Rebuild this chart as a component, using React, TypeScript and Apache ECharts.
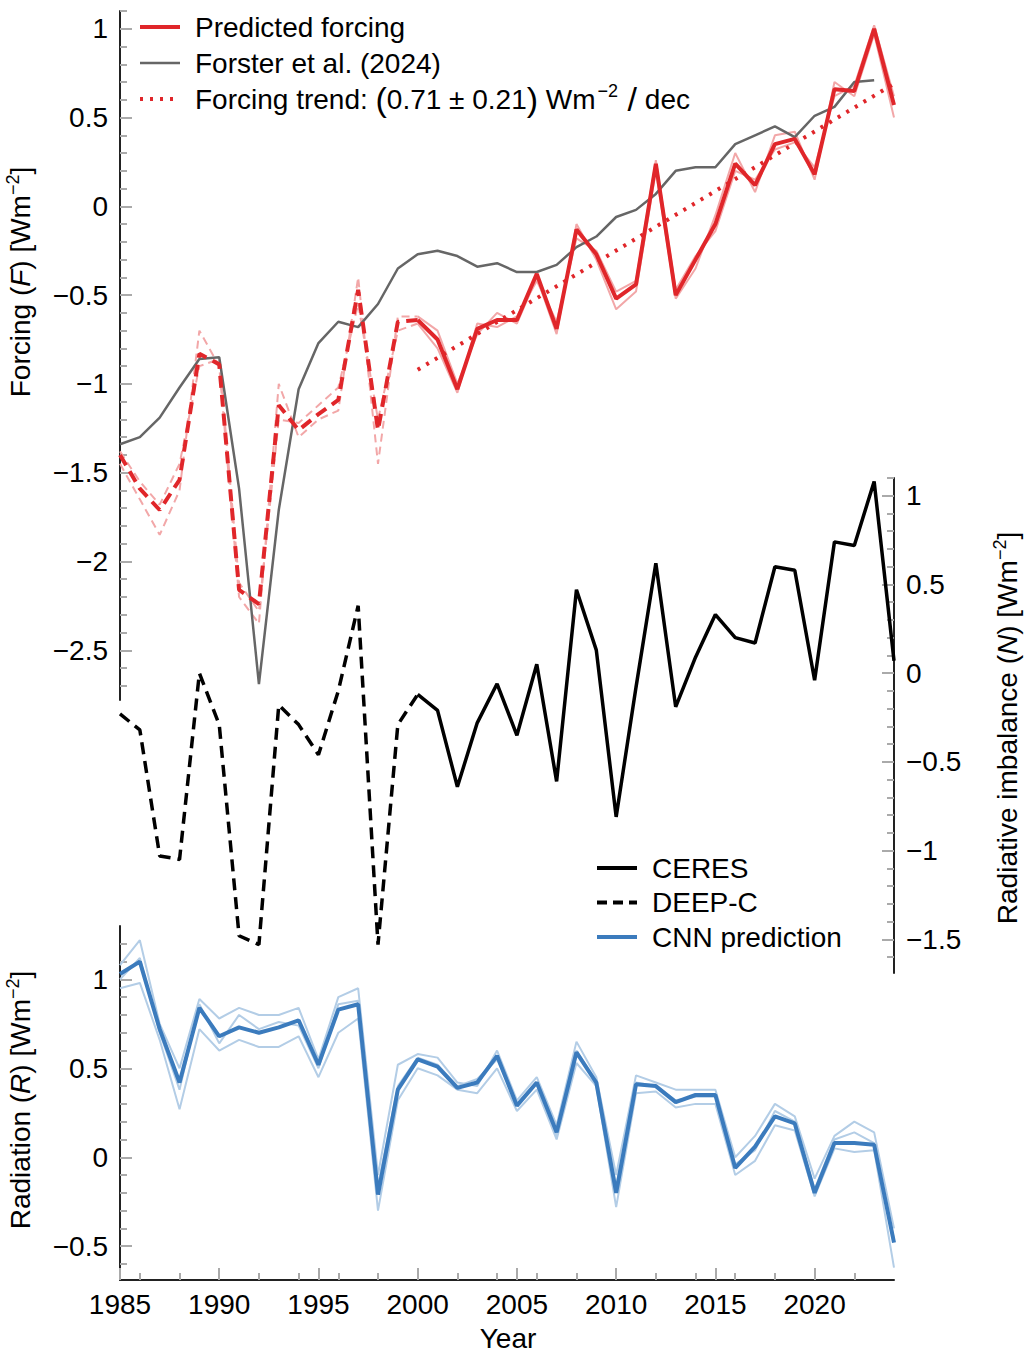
import { useEffect, useRef } from 'react';
import * as echarts from 'echarts';

const years = Array.from({ length: 40 }, (_, i) => 1985 + i);

const predForcing = [-1.40, -1.59, -1.71, -1.54, -0.83, -0.89, -2.16, -2.24, -1.12, -1.26, -1.17, -1.09, -0.47, -1.26, -0.65, -0.64, -0.75, -1.03, -0.69, -0.64, -0.64, -0.38, -0.69, -0.13, -0.27, -0.52, -0.44, 0.24, -0.50, -0.30, -0.10, 0.24, 0.12, 0.35, 0.38, 0.18, 0.66, 0.65, 1.0, 0.57];
const predMember1 = [-1.45, -1.65, -1.85, -1.6, -0.7, -0.9, -2.2, -2.35, -1.0, -1.3, -1.2, -1.15, -0.4, -1.45, -0.62, -0.62, -0.7, -1.0, -0.72, -0.6, -0.66, -0.4, -0.72, -0.1, -0.3, -0.58, -0.48, 0.2, -0.52, -0.35, -0.05, 0.3, 0.08, 0.4, 0.42, 0.15, 0.7, 0.62, 0.97, 0.5];
const predMember2 = [-1.38, -1.55, -1.68, -1.45, -0.9, -0.86, -2.12, -2.28, -1.2, -1.22, -1.12, -1.02, -0.55, -1.2, -0.7, -0.66, -0.8, -1.05, -0.66, -0.68, -0.62, -0.42, -0.65, -0.18, -0.25, -0.48, -0.42, 0.26, -0.47, -0.28, -0.14, 0.2, 0.15, 0.32, 0.36, 0.22, 0.62, 0.68, 1.02, 0.62];
const forster = [-1.34, -1.30, -1.19, -1.02, -0.86, -0.85, -1.59, -2.69, -1.71, -1.03, -0.77, -0.65, -0.68, -0.55, -0.35, -0.27, -0.25, -0.28, -0.34, -0.32, -0.37, -0.37, -0.33, -0.23, -0.17, -0.06, -0.02, 0.07, 0.20, 0.22, 0.22, 0.35, 0.40, 0.45, 0.39, 0.51, 0.56, 0.70, 0.71];
const trendYears = [2000, 2024];
const trendValues = [-0.92, 0.69];

const deepcYears = years.slice(0, 16);
const deepc = [-0.23, -0.32, -1.03, -1.05, 0.0, -0.29, -1.48, -1.53, -0.18, -0.29, -0.46, -0.10, 0.38, -1.53, -0.29, -0.12];
const ceresYears = years.slice(15);
const ceres = [-0.12, -0.21, -0.64, -0.28, -0.06, -0.35, 0.05, -0.61, 0.47, 0.13, -0.81, -0.08, 0.62, -0.19, 0.09, 0.33, 0.20, 0.17, 0.60, 0.58, -0.04, 0.74, 0.72, 1.08, 0.07];

const cnn = [1.03, 1.10, 0.72, 0.42, 0.84, 0.68, 0.73, 0.70, 0.73, 0.77, 0.52, 0.83, 0.86, -0.21, 0.38, 0.55, 0.51, 0.39, 0.42, 0.57, 0.29, 0.42, 0.14, 0.59, 0.42, -0.20, 0.41, 0.40, 0.31, 0.35, 0.35, -0.06, 0.06, 0.23, 0.19, -0.20, 0.08, 0.08, 0.07, -0.48];
const cnnMember1 = [1.08, 1.22, 0.75, 0.50, 0.89, 0.78, 0.84, 0.8, 0.8, 0.84, 0.55, 0.9, 0.95, -0.1, 0.52, 0.58, 0.56, 0.42, 0.4, 0.6, 0.32, 0.45, 0.18, 0.65, 0.45, -0.1, 0.46, 0.42, 0.38, 0.38, 0.38, 0.0, 0.12, 0.3, 0.23, -0.12, 0.12, 0.2, 0.14, -0.4];
const cnnMember2 = [0.95, 0.98, 0.66, 0.27, 0.72, 0.6, 0.66, 0.62, 0.62, 0.68, 0.45, 0.7, 0.78, -0.3, 0.32, 0.5, 0.46, 0.38, 0.36, 0.5, 0.26, 0.38, 0.10, 0.53, 0.40, -0.28, 0.36, 0.37, 0.28, 0.3, 0.3, -0.1, -0.02, 0.18, 0.15, -0.22, 0.05, 0.03, 0.04, -0.62];
const cnnMember3 = [1.0, 1.12, 0.7, 0.38, 0.86, 0.64, 0.8, 0.72, 0.76, 0.74, 0.5, 0.86, 0.88, -0.16, 0.4, 0.56, 0.52, 0.4, 0.44, 0.55, 0.3, 0.42, 0.12, 0.6, 0.42, -0.16, 0.42, 0.4, 0.32, 0.34, 0.34, -0.04, 0.04, 0.26, 0.2, -0.18, 0.1, 0.14, 0.08, -0.46];

const forcingTicks = [-2.5, -2, -1.5, -1, -0.5, 0, 0.5, 1];
const forcingMinor = [-2.7, -2.6, -2.4, -2.3, -2.2, -2.1, -1.9, -1.8, -1.7, -1.6, -1.4, -1.3, -1.2, -1.1, -0.9, -0.8, -0.7, -0.6, -0.4, -0.3, -0.2, -0.1, 0.1, 0.2, 0.3, 0.4, 0.6, 0.7, 0.8, 0.9, 1.1];
const imbTicks = [-1.5, -1, -0.5, 0, 0.5, 1];
const imbMinor = [-1.6, -1.4, -1.3, -1.2, -1.1, -0.9, -0.8, -0.7, -0.6, -0.4, -0.3, -0.2, -0.1, 0.1, 0.2, 0.3, 0.4, 0.6, 0.7, 0.8, 0.9, 1.1];
const radTicks = [-0.5, 0, 0.5, 1];
const radMinor = [-0.6, -0.4, -0.3, -0.2, -0.1, 0.1, 0.2, 0.3, 0.4, 0.6, 0.7, 0.8, 0.9, 1.1, 1.2];
const yearTicks = [1985, 1990, 1995, 2000, 2005, 2010, 2015, 2020];

const FONT = 'Liberation Sans, Arial, sans-serif';
const FS = 28;
const RED = '#e0262a';
const PINK = '#f2a7a8';
const BLUE = '#3b7bbd';
const LIGHTBLUE = '#b3cde6';

const fmt = (v: number) => (v < 0 ? '\u2212' + Math.abs(v) : String(v));
const pts = (xs: number[], ys: number[]) => xs.map((x, i) => [x, ys[i]]);
const before = (ys: number[]) => ys.map((v, i) => (years[i] <= 2000 ? [years[i], v] : [years[i], null]));
const after = (ys: number[]) => ys.map((v, i) => (years[i] >= 2000 ? [years[i], v] : [years[i], null]));

function yAxisPair(grid: number, min: number, max: number, major: number[], minor: number[], pos: 'left' | 'right') {
  return [
    {
      type: 'value', gridIndex: grid, min, max, position: pos,
      splitLine: { show: false },
      axisLine: { show: true, lineStyle: { color: '#222', width: 2 } },
      axisTick: { show: true, inside: true, length: 12, customValues: major, lineStyle: { color: '#aaa', width: 2 } },
      axisLabel: { customValues: major, formatter: fmt, fontSize: FS, color: '#000', fontFamily: FONT, margin: 12 },
    },
    {
      type: 'value', gridIndex: grid, min, max, position: pos,
      splitLine: { show: false },
      axisLine: { show: false },
      axisTick: { show: true, inside: true, length: 7, customValues: minor, lineStyle: { color: '#aaa', width: 2 } },
      axisLabel: { show: false },
    },
  ];
}

function line(x: number, y: number, yi: number, data: any[], color: string, width: number, type: any = 'solid', z = 2) {
  return {
    type: 'line', xAxisIndex: x, yAxisIndex: yi, data, showSymbol: false, symbol: 'none', z,
    connectNulls: false,
    lineStyle: { color, width, type },
  };
}

function legendItems(x0: number, y0: number, dy: number, items: { label: string; color: string; width: number; dash?: number[] }[]) {
  const els: any[] = [];
  items.forEach((it, i) => {
    const y = y0 + i * dy;
    els.push({ type: 'line', shape: { x1: x0, y1: y, x2: x0 + 40, y2: y }, style: { stroke: it.color, lineWidth: it.width, lineDash: it.dash } });
    els.push({ type: 'text', x: x0 + 55, y, style: { text: it.label, fontSize: FS, fontFamily: FONT, fill: '#000', verticalAlign: 'middle' } });
  });
  return els;
}

const richLabel = {
  i: { fontSize: FS, fontStyle: 'italic', fontFamily: FONT },
  s: { fontSize: 18, fontFamily: FONT, padding: [0, 0, 14, 0] },
};

export default function App() {
  const ref = useRef<HTMLDivElement>(null);

  useEffect(() => {
    if (!ref.current) return;
    const chart = echarts.init(ref.current, undefined, { renderer: 'svg' });

    const hiddenX = (grid: number) => ({ type: 'value', gridIndex: grid, min: 1985, max: 2024, show: false });

    chart.setOption({
      animation: false,
      grid: [
        { left: 120, right: 134, top: 11, height: 689 },
        { left: 120, right: 134, top: 478, height: 495 },
        { left: 120, right: 134, top: 926, height: 354 },
      ],
      xAxis: [
        hiddenX(0),
        hiddenX(1),
        {
          type: 'value', gridIndex: 2, min: 1985, max: 2024,
          splitLine: { show: false },
          axisLine: { show: true, onZero: false, lineStyle: { color: '#222', width: 2 } },
          axisTick: { show: true, inside: true, length: 12, customValues: yearTicks, lineStyle: { color: '#aaa', width: 2 } },
          minorTick: { show: true, splitNumber: 5, length: 7, lineStyle: { color: '#aaa', width: 2 } },
          axisLabel: { customValues: yearTicks, formatter: (v: number) => String(v), fontSize: FS, color: '#000', fontFamily: FONT, margin: 10 },
        },
      ],
      yAxis: [
        ...yAxisPair(0, -2.78, 1.1, forcingTicks, forcingMinor, 'left'),
        ...yAxisPair(1, -1.69, 1.1, imbTicks, imbMinor, 'right'),
        ...yAxisPair(2, -0.69, 1.3, radTicks, radMinor, 'left'),
      ],
      series: [
        line(0, 0, 0, before(predMember1), PINK, 2, [8, 5], 1),
        line(0, 0, 0, after(predMember1), PINK, 2, 'solid', 1),
        line(0, 0, 0, before(predMember2), PINK, 2, [8, 5], 1),
        line(0, 0, 0, after(predMember2), PINK, 2, 'solid', 1),
        line(0, 0, 0, pts(years.slice(0, forster.length), forster), '#666', 2.5, 'solid', 2),
        line(0, 0, 0, pts(trendYears, trendValues), RED, 4, [3, 7], 3),
        line(0, 0, 0, before(predForcing), RED, 4, [12, 7], 4),
        line(0, 0, 0, after(predForcing), RED, 4, 'solid', 4),
        line(1, 1, 2, pts(deepcYears, deepc), '#000', 3.5, [12, 7], 3),
        line(1, 1, 2, pts(ceresYears, ceres), '#000', 3.5, 'solid', 3),
        line(2, 2, 4, pts(years, cnnMember1), LIGHTBLUE, 2, 'solid', 1),
        line(2, 2, 4, pts(years, cnnMember2), LIGHTBLUE, 2, 'solid', 1),
        line(2, 2, 4, pts(years, cnnMember3), LIGHTBLUE, 2, 'solid', 1),
        line(2, 2, 4, pts(years, cnn), BLUE, 4, 'solid', 3),
      ],
      graphic: [
        ...legendItems(140, 27, 36, [
          { label: 'Predicted forcing', color: RED, width: 4 },
          { label: 'Forster et al. (2024)', color: '#666', width: 2.5 },
          { label: '', color: RED, width: 4, dash: [3, 7] },
        ]),
        {
          type: 'text', x: 195, y: 99,
          style: {
            text: '{a|Forcing trend: }{b|(}{a|0.71 \u00b1 0.21}{b|)}{a| Wm}{s|\u22122}{b| /}{a| dec}',
            fontFamily: FONT, fill: '#000', verticalAlign: 'middle',
            rich: {
              a: { fontSize: FS, fontFamily: FONT },
              b: { fontSize: 34, fontFamily: FONT },
              s: { fontSize: 18, fontFamily: FONT, verticalAlign: 'top', padding: [0, 0, 14, 2] },
            },
          },
        },
        ...legendItems(597, 868, 34.5, [
          { label: 'CERES', color: '#000', width: 4 },
          { label: 'DEEP-C', color: '#000', width: 4, dash: [10, 6] },
          { label: 'CNN prediction', color: BLUE, width: 4 },
        ]),
        {
          type: 'text', x: 20, y: 282, rotation: Math.PI / 2,
          style: { text: 'Forcing ({i|F}) [Wm{s|\u22122}]', fontSize: FS, fontFamily: FONT, fill: '#000', align: 'center', verticalAlign: 'middle', rich: richLabel },
        },
        {
          type: 'text', x: 1007, y: 728, rotation: Math.PI / 2,
          style: { text: 'Radiative imbalance ({i|N}) [Wm{s|\u22122}]', fontSize: FS, fontFamily: FONT, fill: '#000', align: 'center', verticalAlign: 'middle', rich: richLabel },
        },
        {
          type: 'text', x: 20, y: 1100, rotation: Math.PI / 2,
          style: { text: 'Radiation ({i|R}) [Wm{s|\u22122}]', fontSize: FS, fontFamily: FONT, fill: '#000', align: 'center', verticalAlign: 'middle', rich: richLabel },
        },
        {
          type: 'text', x: 508, y: 1338,
          style: { text: 'Year', fontSize: FS, fontFamily: FONT, fill: '#000', align: 'center', verticalAlign: 'middle' },
        },
      ],
    });

    return () => chart.dispose();
  }, []);

  return <div ref={ref} style={{ position: 'absolute', left: 0, top: 0, width: 1028, height: 1352 }} />;
}
